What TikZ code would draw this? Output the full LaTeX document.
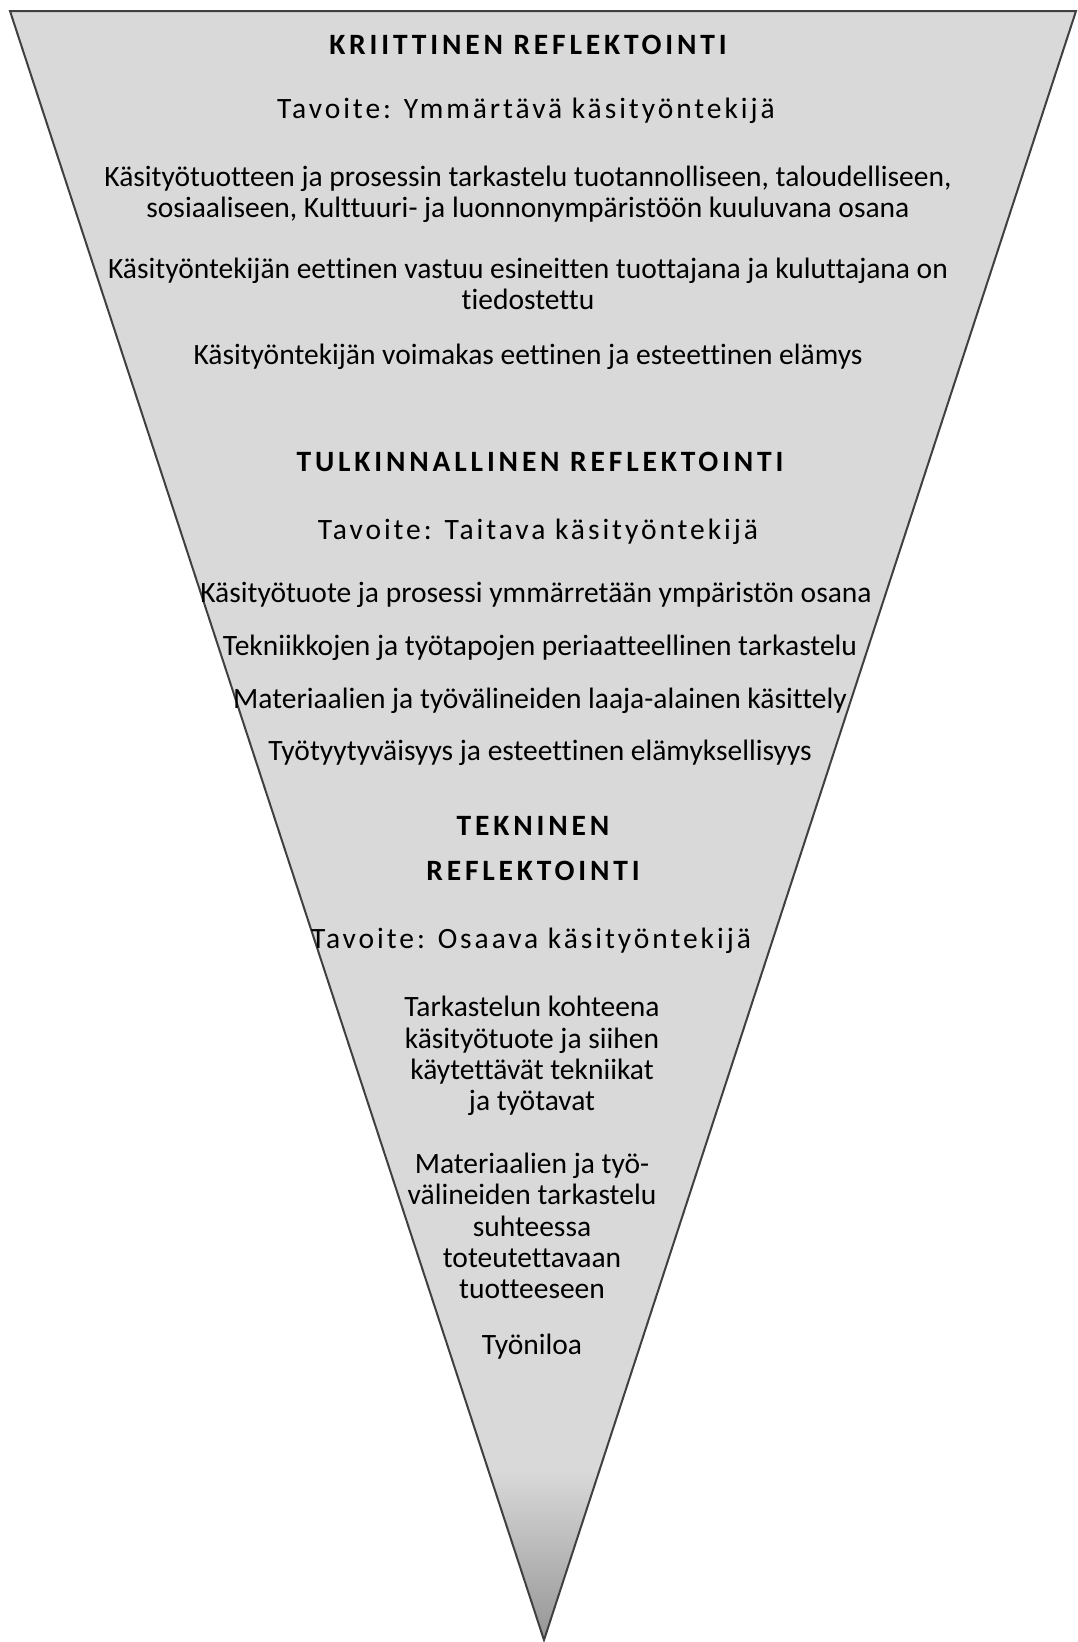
\documentclass[tikz,border=0pt]{standalone}
\usepackage{fontspec}
\setmainfont{Carlito}[Ligatures={NoCommon}]
\newfontfamily\goalfont[LetterSpace=10,Ligatures={NoCommon}]{Carlito}
\newfontfamily\levelfont[LetterSpace=13,Ligatures={NoCommon}]{Carlito}
\usetikzlibrary{shadings}

\definecolor{funnelgray}{HTML}{D9D9D9}
\definecolor{tipgray}{HTML}{959595}
\definecolor{edgegray}{HTML}{404040}

\tikzset{
    body/.style={align=center, inner sep=0pt, font=\fontsize{29.5}{31.4}\selectfont},
    goal/.style={align=center, inner sep=0pt, font=\fontsize{29.5}{31.4}\goalfont},
    level/.style={align=center, inner sep=0pt, font=\fontsize{29.5}{45}\levelfont\bfseries}
}

\begin{document}
\begin{tikzpicture}[x=1pt,y=-1pt]
    \useasboundingbox (0,0) rectangle (1077,1642);
    %% funnel
    \coordinate (tl) at (10,11);
    \coordinate (tr) at (1076,11);
    \coordinate (tip) at (544,1640);
    \fill[funnelgray] (tl) -- (tr) -- (tip) -- cycle;
    \begin{scope}
        \clip (tl) -- (tr) -- (tip) -- cycle;
        \shade[top color=funnelgray, bottom color=tipgray] (0,1470) rectangle (1077,1642);
    \end{scope}
    \draw[edgegray, line width=2pt, line join=miter] (tl) -- (tr) -- (tip) -- cycle;

    % Critical level
    \node[level] (crit) at (528,45) {KRIITTINEN REFLEKTOINTI};
    \node[goal] (critgoal) at (526,111) {Tavoite: Ymmärtävä käsityöntekijä};
    \node[body] (crita) at (528,194) {Käsityötuotteen ja prosessin tarkastelu tuotannolliseen, taloudelliseen,\\
        sosiaaliseen, Kulttuuri- ja luonnonympäristöön kuuluvana osana};
    \node[body] (critb) at (528,284) {Käsityöntekijän eettinen vastuu esineitten tuottajana ja kuluttajana on\\
        tiedostettu};
    \node[body] (critc) at (528,357) {Käsityöntekijän voimakas eettinen ja esteettinen elämys};

    % Interpretive level
    \node[level] (interp) at (540,462) {TULKINNALLINEN REFLEKTOINTI};
    \node[goal] (interpgoal) at (538,532) {Tavoite: Taitava käsityöntekijä};
    \node[body] (interpa) at (536,595) {Käsityötuote ja prosessi ymmärretään ympäristön osana};
    \node[body] (interpb) at (540,648) {Tekniikkojen ja työtapojen periaatteellinen tarkastelu};
    \node[body] (interpc) at (540,701) {Materiaalien ja työvälineiden laaja-alainen käsittely};
    \node[body] (interpd) at (540,753) {Työtyytyväisyys ja esteettinen elämyksellisyys};

    % Technical level
    \node[level] (tech) at (533,849) {TEKNINEN\\ REFLEKTOINTI};
    \node[goal] (techgoal) at (531,941) {Tavoite: Osaava käsityöntekijä};
    \node[body] (techa) at (532,1056) {Tarkastelun kohteena\\ käsityötuote ja siihen\\ käytettävät tekniikat\\ ja työtavat};
    \node[body] (techb) at (532,1226) {Materiaalien ja työ-\\ välineiden tarkastelu\\ suhteessa\\ toteutettavaan\\ tuotteeseen};
    \node[body] (techc) at (532,1347) {Työniloa};
\end{tikzpicture}
\end{document}
